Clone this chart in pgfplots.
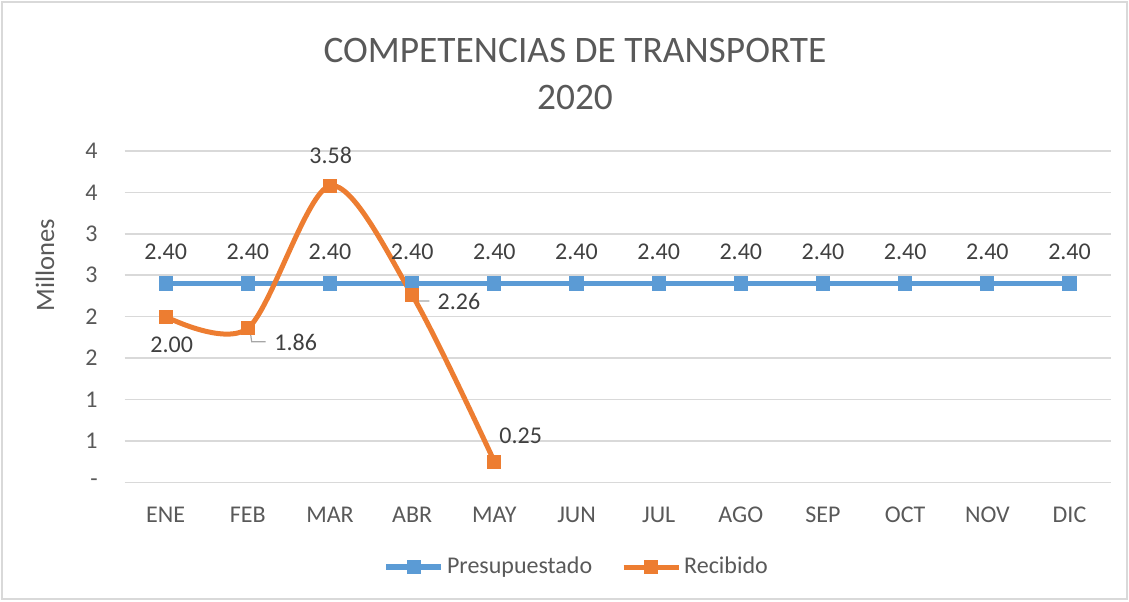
\documentclass[border=0pt]{standalone}
\usepackage{pgfplots}
\pgfplotsset{compat=1.18}
\usepackage{fontspec}
\setmainfont{Carlito}

\definecolor{pblue}{RGB}{91,155,213}
\definecolor{porange}{RGB}{237,125,49}
\definecolor{gridgray}{RGB}{217,217,217}
\definecolor{txtgray}{RGB}{89,89,89}
\definecolor{lblgray}{RGB}{64,64,64}
\definecolor{leadgray}{RGB}{166,166,166}

\begin{document}
\begin{tikzpicture}[x=1pt,y=1pt]
  % page frame (1 px of the reference = 0.5 pt)
  \path[use as bounding box] (-62.3,-59.35) rectangle (502.2,241.15);
  \draw[gridgray, line width=0.8pt] (-61.3,-58.35) rectangle (501.2,240.15);

  \begin{axis}[
    at={(0,0)}, anchor=south west, scale only axis,
    width=493pt, height=165.65pt,
    xmin=-0.5, xmax=11.5, ymin=0, ymax=4,
    xtick={0,...,11},
    xticklabels={ENE,FEB,MAR,ABR,MAY,JUN,JUL,AGO,SEP,OCT,NOV,DIC},
    ytick={0,0.5,1,1.5,2,2.5,3,3.5,4},
    yticklabels={-,1,1,2,2,3,3,4,4},
    ymajorgrids, grid style={gridgray, line width=0.8pt},
    axis line style={draw=none}, major tick length=0pt,
    tick label style={font=\fontsize{12}{14}\selectfont, text=txtgray, inner sep=0pt},
    xticklabel style={anchor=center, yshift=-16.4pt},
    yticklabel style={anchor=east, xshift=-13.3pt},
    /pgf/number format/assume math mode=true,
    clip=false,
    legend columns=2,
    legend style={at={(0.459,-0.2557)}, anchor=center, draw=none, fill=none,
      font=\fontsize{12}{14}\selectfont, text=txtgray,
      nodes={inner sep=1.5pt},
      /tikz/every even column/.append style={column sep=13pt}},
    legend image code/.code={\draw[mark repeat=2,mark phase=2,#1]
      plot coordinates {(0pt,0pt) (13.75pt,0pt) (27.5pt,0pt)};},
  ]
    \addplot[pblue, line width=2.75pt, mark=square*, mark size=3.3pt,
      mark options={line width=0.5pt},
      point meta=y,
      nodes near coords={\pgfmathprintnumber[fixed,fixed zerofill,precision=2]{\pgfplotspointmeta}},
      every node near coord/.append style={anchor=center, yshift=15.65pt,
        font=\fontsize{12}{14}\selectfont, text=lblgray, line width=0pt}]
    table {
      0 2.40
      1 2.40
      2 2.40
      3 2.40
      4 2.40
      5 2.40
      6 2.40
      7 2.40
      8 2.40
      9 2.40
      10 2.40
      11 2.40
    };
    \addlegendentry{Presupuestado}

    \addplot[porange, line width=2.5pt, smooth, mark=square*, mark size=3.3pt,
      mark options={line width=0.5pt}]
    table {
      0 2.00
      1 1.86
      2 3.58
      3 2.26
      4 0.25
    };
    \addlegendentry{Recibido}

    % leader lines and data labels of Recibido
    \draw[leadgray, line width=0.6pt] (axis cs:1.026,1.839) -- (axis cs:1.047,1.698) -- (axis cs:1.217,1.698);
    \draw[leadgray, line width=0.6pt] (axis cs:3.014,2.242) -- (axis cs:3.035,2.190) -- (axis cs:3.209,2.190);
    \begin{scope}[every node/.style={font=\fontsize{12}{14}\selectfont, text=lblgray, anchor=center}]
      \node at (axis cs:0.073,1.658) {2.00};
      \node at (axis cs:1.582,1.694) {1.86};
      \node at (axis cs:2.009,3.953) {3.58};
      \node at (axis cs:3.570,2.181) {2.26};
      \node at (axis cs:4.321,0.563) {0.25};
    \end{scope}
  \end{axis}

  \node[font=\fontsize{18.7}{22}\selectfont, text=txtgray] at (225.2,216.15) {COMPETENCIAS DE TRANSPORTE};
  \node[font=\fontsize{18.7}{22}\selectfont, text=txtgray] at (225.2,192.65) {2020};
  \node[font=\fontsize{13.3}{16}\selectfont, text=txtgray, rotate=90] at (-39.8,108.65) {Millones};
\end{tikzpicture}
\end{document}
